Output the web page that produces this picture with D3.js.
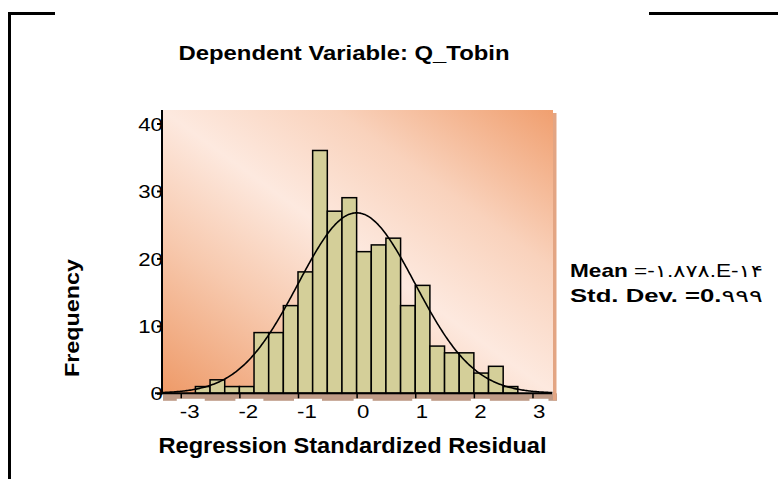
<!DOCTYPE html>
<html><head><meta charset="utf-8">
<script src="https://cdn.jsdelivr.net/npm/d3@7"></script>
<style>body{margin:0;background:#fff}svg{display:block}</style>
</head><body><svg id="c" width="778" height="479"></svg>
<script>
// ---- data ----
const binStarts = [-2.75,-2.5,-2.25,-2.0,-1.75,-1.5,-1.25,-1.0,-0.75,-0.5,-0.25,0,0.25,0.5,0.75,1.0,1.25,1.5,1.75,2.0,2.25,2.5];
const counts    = [1,2,1,1,9,9,13,18,36,27,29,21,22,23,13,16,7,6,6,3,4,1];
const binWidth = 0.25;
const xTicks = [-3,-2,-1,0,1,2,3];
const yTicks = [0,10,20,30,40];
const meanValue = -1.878e-14;
const stdDev = 0.999;
const titleText = "Dependent Variable: Q_Tobin";
const xLabel = "Regression Standardized Residual";
const yLabel = "Frequency";
const meanLabel = ["Mean ", "=-١.٨٧٨.E-١۴"];
const sdLabel = ["Std. Dev. =0.", "٩٩٩"];

// ---- layout ----
const svg = d3.select("#c");
const FONT = "'Liberation Sans', Arial, 'DejaVu Sans', sans-serif";
const x = d3.scaleLinear().domain([-3.32, 3.35]).range([162, 553]);
const y = d3.scaleLinear().domain([0, 40]).range([393.3, 123.5]);
const yTop = 42;
const SX = 1.2; // horizontal stretch of glyphs seen in the reference

const defs = svg.append("defs");
const g = defs.append("linearGradient").attr("id","bg")
  .attr("x1",0).attr("y1",1).attr("x2",1).attr("y2",0);
[[0,"#ee9a68"],[0.28,"#f7c9ae"],[0.5,"#fde9df"],[0.72,"#f9d2bc"],[1,"#f09f6f"]]
  .forEach(([o,c]) => g.append("stop").attr("offset",o).attr("stop-color",c));

// frame lines
svg.append("path").attr("d","M9.5,479 V13.5 H55").attr("fill","none").attr("stroke","#000").attr("stroke-width",3);
svg.append("line").attr("x1",649).attr("x2",778).attr("y1",13.5).attr("y2",13.5).attr("stroke","#000").attr("stroke-width",3);

// shadows
svg.append("rect").attr("x", x.range()[0]+1).attr("y", y(0)).attr("width", x.range()[1]-x.range()[0]+3).attr("height", 7.5).attr("fill","#bf9b87");
svg.append("rect").attr("x", x.range()[1]).attr("y", y(yTop)+3).attr("width", 3.5).attr("height", y(0)-y(yTop)+4).attr("fill","#e3a583");

// plot background
svg.append("rect").attr("x", x.range()[0]).attr("y", y(yTop))
  .attr("width", x.range()[1]-x.range()[0]).attr("height", y(0)-y(yTop)).attr("fill","url(#bg)");

// bars
svg.append("g").selectAll("rect").data(binStarts).join("rect")
  .attr("x", d => x(d)).attr("y", (d,i) => y(counts[i]))
  .attr("width", d => x(d+binWidth)-x(d)).attr("height", (d,i) => y(0)-y(counts[i]))
  .attr("fill","#d4cf99").attr("stroke","#000").attr("stroke-width",1.5);

// normal curve
const N = d3.sum(counts);
const pdf = t => Math.exp(-0.5*((t-meanValue)/stdDev)**2)/(stdDev*Math.sqrt(2*Math.PI));
const xs = d3.range(x.domain()[0], x.domain()[1]+1e-9, 0.02);
svg.append("path").datum(xs)
  .attr("d", d3.line().x(t => x(t)).y(t => y(N*binWidth*pdf(t))))
  .attr("fill","none").attr("stroke","#000").attr("stroke-width",1.6);

// x tick label backgrounds
xTicks.forEach(t => {
  const w = t < 0 ? 24 : 15;
  svg.append("rect").attr("x", x(t)-(t<0?4:3)).attr("y", y(0)+5.5).attr("width", w+4).attr("height", 20).attr("fill","#fff");
});

// axes
const yAxis = svg.append("g").attr("transform",`translate(${x.range()[0]},0)`)
  .call(d3.axisLeft(y).tickValues(yTicks).tickSize(5).tickSizeOuter(0).tickPadding(-5).tickFormat(d => String(d)));
yAxis.select(".domain").remove();
yAxis.selectAll("text").attr("font-family",FONT).attr("font-size",18.5).attr("fill","#000")
  .attr("dy","0.36em").attr("x",0.8/SX).attr("transform",`scale(${SX},1)`);
yAxis.selectAll("line").attr("stroke","#000").attr("stroke-width",2).raise();

const xAxis = svg.append("g").attr("transform",`translate(0,${y(0)})`)
  .call(d3.axisBottom(x).tickValues(xTicks).tickSize(5).tickSizeOuter(0).tickFormat(d => String(d)));
xAxis.select(".domain").remove();
xAxis.selectAll("line").attr("stroke","#000").attr("stroke-width",1.5);
xAxis.selectAll("text").attr("font-family",FONT).attr("font-size",18.5).attr("fill","#000")
  .attr("text-anchor","start").attr("x", d => d < 0 ? -1.5/SX : 0).attr("y", 25).attr("dy",0)
  .attr("transform",`scale(${SX},1)`);

svg.append("line").attr("x1", x.range()[0]).attr("x2", x.range()[0]).attr("y1", y(yTop)).attr("y2", y(0)+1)
  .attr("stroke","#000").attr("stroke-width",2);
svg.append("line").attr("x1", x.range()[0]-7).attr("x2", x.range()[1]-1).attr("y1", y(0)).attr("y2", y(0))
  .attr("stroke","#000").attr("stroke-width",2);

// titles
svg.append("text").attr("x",178.5).attr("y",60).text(titleText)
  .attr("font-family",FONT).attr("font-weight","bold").attr("font-size",20)
  .attr("textLength",331).attr("lengthAdjust","spacingAndGlyphs");
svg.append("text").attr("x",158.5).attr("y",452.7).text(xLabel)
  .attr("font-family",FONT).attr("font-weight","bold").attr("font-size",22)
  .attr("textLength",388).attr("lengthAdjust","spacingAndGlyphs");
svg.append("text").attr("transform","translate(79,318) rotate(-90)").attr("text-anchor","middle").text(yLabel)
  .attr("font-family",FONT).attr("font-weight","bold").attr("font-size",21)
  .attr("textLength",118).attr("lengthAdjust","spacingAndGlyphs");

// legend
function legendLine(parts, yy) {
  const t = svg.append("text").attr("x",570).attr("y",yy)
    .attr("font-family",FONT).attr("font-size",17.5)
    .style("direction","ltr").style("unicode-bidi","bidi-override");
  t.append("tspan").attr("font-weight","bold").text(parts[0]);
  t.append("tspan").attr("font-weight","normal").text(parts[1]);
  const w = t.node().getBBox().width;
  const s = 193 / w;
  t.attr("transform",`translate(570,0) scale(${s},1) translate(-570,0)`);
}
legendLine(meanLabel, 277);
legendLine(sdLabel, 302.5);
</script></body></html>
